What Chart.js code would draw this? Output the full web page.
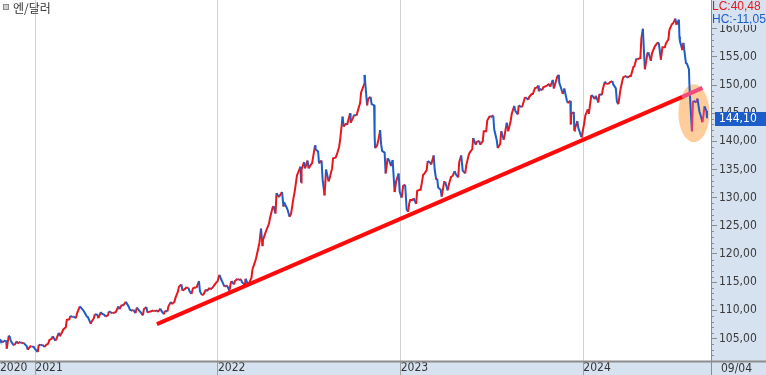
<!DOCTYPE html>
<html>
<head>
<meta charset="utf-8">
<script src="https://cdn.jsdelivr.net/npm/chart.js@4.4.1/dist/chart.umd.min.js"></script>
<style>
  html, body { margin: 0; padding: 0; background: #fff; }
  #wrap { width: 766px; height: 375px; }
</style>
</head>
<body>
<div id="wrap"><canvas id="fxChart" width="766" height="375"></canvas></div>
<script>
// labels
const TITLE = '엔/달러';
const LAST_DATE_LABEL = '09/04';
const LAST_PRICE = 144.10;
const LC_TEXT = 'LC:40,48';
const HC_TEXT = 'HC:-11,05';

// USD/JPY (month-day, rate)
const rates2020 = [
  ['10-22', 104.9], ['10-23', 104.7], ['10-28', 104.3], ['10-30', 104.6], ['11-04', 104.5],
  ['11-05', 103.2], ['11-09', 105.5], ['11-11', 105.3], ['11-13', 104.6], ['11-18', 103.9],
  ['11-20', 103.8], ['11-25', 104.5], ['11-27', 104.1], ['12-02', 104.4], ['12-04', 104.2],
  ['12-09', 104.2], ['12-11', 104.0], ['12-15', 103.6], ['12-17', 103.0], ['12-22', 103.6],
  ['12-24', 103.6], ['12-29', 103.5], ['12-31', 103.2]
];
const rates2021 = [
  ['01-06', 102.6], ['01-08', 103.9], ['01-12', 103.8], ['01-15', 103.9], ['01-20', 103.5],
  ['01-22', 103.8], ['01-27', 104.1], ['01-29', 104.7], ['02-03', 105.0], ['02-05', 105.4],
  ['02-10', 104.6], ['02-12', 104.9], ['02-17', 106.0], ['02-19', 105.4], ['02-24', 106.2],
  ['02-26', 106.6], ['03-03', 107.0], ['03-05', 108.3], ['03-10', 108.4], ['03-12', 109.0],
  ['03-17', 108.8], ['03-19', 108.9], ['03-23', 108.6], ['03-26', 109.6], ['03-31', 110.7],
  ['04-06', 110.1], ['04-09', 109.7], ['04-14', 108.9], ['04-16', 108.8], ['04-22', 107.6],
  ['04-23', 107.9], ['04-28', 108.6], ['04-30', 109.3], ['05-05', 109.2], ['05-07', 108.6],
  ['05-12', 109.7], ['05-14', 109.4], ['05-19', 109.2], ['05-21', 108.9], ['05-26', 109.1],
  ['05-28', 109.8], ['06-02', 109.6], ['06-04', 109.5], ['06-09', 109.6], ['06-11', 109.7],
  ['06-16', 110.7], ['06-18', 110.2], ['06-23', 111.0], ['06-25', 110.8], ['07-01', 111.5],
  ['07-07', 110.6], ['07-09', 110.1], ['07-14', 109.9], ['07-16', 110.1], ['07-20', 109.5],
  ['07-23', 110.5], ['07-28', 109.9], ['07-30', 109.7], ['08-04', 109.1], ['08-06', 110.2],
  ['08-11', 110.6], ['08-13', 109.6], ['08-18', 109.8], ['08-20', 109.8], ['08-25', 110.0],
  ['08-27', 109.8], ['09-01', 110.0], ['09-03', 109.7], ['09-08', 110.3], ['09-10', 109.9],
  ['09-15', 109.3], ['09-17', 109.9], ['09-22', 109.8], ['09-24', 110.7], ['09-29', 111.5],
  ['10-01', 111.1], ['10-06', 111.5], ['10-08', 112.2], ['10-13', 113.3], ['10-15', 114.2],
  ['10-20', 114.6], ['10-22', 113.5], ['10-27', 113.8], ['10-29', 114.0], ['11-03', 114.0],
  ['11-05', 113.4], ['11-09', 112.9], ['11-12', 113.9], ['11-17', 114.1], ['11-19', 114.0],
  ['11-24', 115.2], ['11-26', 113.4], ['11-30', 112.7], ['12-03', 112.8], ['12-08', 113.7],
  ['12-10', 113.4], ['12-15', 114.0], ['12-17', 113.7], ['12-22', 114.1], ['12-24', 114.4],
  ['12-29', 115.0], ['12-31', 115.1]
];
const rates2022 = [
  ['01-04', 116.3], ['01-07', 115.6], ['01-12', 114.6], ['01-14', 114.2], ['01-19', 114.4],
  ['01-24', 113.5], ['01-26', 114.6], ['01-28', 115.2], ['02-02', 114.6], ['02-04', 115.2],
  ['02-09', 115.6], ['02-11', 115.4], ['02-16', 115.5], ['02-18', 115.0], ['02-24', 114.5],
  ['02-25', 115.6], ['03-01', 114.8], ['03-04', 114.8], ['03-09', 115.8], ['03-11', 117.3],
  ['03-16', 118.6], ['03-18', 119.2], ['03-23', 121.2], ['03-25', 122.1], ['03-28', 124.5],
  ['03-31', 121.4], ['04-01', 122.5], ['04-06', 123.8], ['04-08', 124.3], ['04-13', 125.4],
  ['04-15', 126.4], ['04-20', 128.2], ['04-22', 128.5], ['04-26', 127.2], ['04-28', 130.8],
  ['05-03', 130.1], ['05-06', 130.6], ['05-09', 131.0], ['05-12', 128.4], ['05-13', 129.2],
  ['05-18', 128.3], ['05-20', 127.9], ['05-24', 126.6], ['05-27', 127.1], ['06-01', 130.0],
  ['06-03', 130.9], ['06-08', 134.0], ['06-10', 134.4], ['06-15', 135.5], ['06-16', 132.7],
  ['06-17', 135.0], ['06-22', 136.3], ['06-24', 135.2], ['06-29', 136.6], ['07-01', 135.2],
  ['07-06', 135.9], ['07-08', 136.1], ['07-14', 139.3], ['07-15', 138.6], ['07-20', 138.2],
  ['07-22', 136.1], ['07-27', 136.6], ['07-29', 133.3], ['08-02', 130.4], ['08-05', 135.0],
  ['08-10', 132.9], ['08-12', 133.4], ['08-17', 135.2], ['08-19', 137.0], ['08-24', 137.1],
  ['08-26', 137.5], ['08-31', 139.0], ['09-02', 140.2], ['09-07', 144.4], ['09-09', 142.6],
  ['09-14', 143.2], ['09-16', 142.9], ['09-22', 145.0], ['09-23', 143.3], ['09-28', 144.2],
  ['09-30', 144.7], ['10-05', 144.6], ['10-07', 145.3], ['10-12', 146.8], ['10-14', 148.7],
  ['10-20', 150.1], ['10-21', 151.8], ['10-24', 148.5], ['10-26', 146.4], ['10-28', 147.5],
  ['11-02', 147.9], ['11-04', 146.6], ['11-09', 146.4], ['11-10', 141.0], ['11-11', 138.8],
  ['11-15', 139.3], ['11-18', 140.4], ['11-21', 142.0], ['11-23', 139.5], ['11-25', 138.3],
  ['11-30', 138.0], ['12-02', 134.3], ['12-06', 137.0], ['12-09', 136.6], ['12-13', 135.6],
  ['12-16', 136.7], ['12-20', 131.0], ['12-23', 132.9], ['12-28', 134.3], ['12-30', 131.1]
];
const rates2023 = [
  ['01-03', 130.0], ['01-06', 132.1], ['01-10', 132.3], ['01-13', 127.9], ['01-16', 127.5],
  ['01-18', 128.9], ['01-20', 129.6], ['01-25', 129.6], ['01-27', 129.9], ['02-01', 128.9],
  ['02-03', 131.2], ['02-08', 131.4], ['02-10', 131.4], ['02-15', 134.1], ['02-17', 134.2],
  ['02-22', 134.9], ['02-24', 136.5], ['03-01', 136.2], ['03-03', 135.9], ['03-08', 137.5],
  ['03-10', 135.0], ['03-13', 133.2], ['03-15', 133.4], ['03-17', 131.8], ['03-22', 131.4],
  ['03-24', 130.2], ['03-29', 132.8], ['03-31', 132.8], ['04-05', 131.3], ['04-07', 132.2],
  ['04-12', 133.8], ['04-14', 133.7], ['04-19', 134.7], ['04-21', 134.2], ['04-26', 133.6],
  ['04-28', 136.3], ['05-02', 137.5], ['05-05', 134.8], ['05-10', 134.3], ['05-12', 135.7],
  ['05-17', 137.6], ['05-19', 138.0], ['05-24', 138.6], ['05-26', 140.6], ['05-31', 139.4],
  ['06-02', 139.9], ['06-07', 140.1], ['06-09', 139.4], ['06-14', 140.0], ['06-16', 141.8],
  ['06-21', 141.8], ['06-23', 143.7], ['06-28', 144.5], ['06-30', 144.3], ['07-05', 144.6],
  ['07-07', 142.1], ['07-12', 140.2], ['07-14', 138.8], ['07-19', 139.6], ['07-21', 141.8],
  ['07-26', 140.3], ['07-28', 141.2], ['08-01', 143.3], ['08-04', 141.8], ['08-09', 143.7],
  ['08-11', 144.9], ['08-16', 146.3], ['08-18', 145.4], ['08-23', 144.8], ['08-25', 146.4],
  ['08-30', 146.1], ['09-01', 146.2], ['09-06', 147.7], ['09-08', 147.8], ['09-13', 147.4],
  ['09-15', 147.9], ['09-20', 148.4], ['09-22', 148.4], ['09-27', 149.6], ['09-29', 149.4],
  ['10-03', 149.9], ['10-04', 148.9], ['10-06', 149.3], ['10-11', 149.1], ['10-13', 149.6],
  ['10-18', 149.8], ['10-20', 149.9], ['10-25', 150.2], ['10-27', 149.7], ['11-01', 150.9],
  ['11-03', 149.4], ['11-08', 150.9], ['11-10', 151.5], ['11-13', 151.8], ['11-14', 150.4],
  ['11-17', 149.6], ['11-21', 148.4], ['11-24', 149.4], ['11-29', 147.3], ['12-01', 146.8],
  ['12-06', 147.2], ['12-07', 143.0], ['12-08', 144.9], ['12-13', 145.2], ['12-14', 141.9],
  ['12-15', 142.2], ['12-20', 143.6], ['12-22', 142.4], ['12-28', 140.8], ['12-29', 141.0]
];
const rates2024 = [
  ['01-03', 143.3], ['01-05', 144.6], ['01-10', 145.7], ['01-12', 144.9], ['01-17', 148.2],
  ['01-19', 148.1], ['01-24', 147.5], ['01-26', 148.1], ['01-31', 146.9], ['02-02', 148.4],
  ['02-07', 148.2], ['02-09', 149.3], ['02-13', 150.6], ['02-16', 150.2], ['02-21', 150.3],
  ['02-23', 150.5], ['02-28', 150.7], ['03-01', 150.1], ['03-06', 149.4], ['03-08', 147.1],
  ['03-11', 146.6], ['03-13', 147.8], ['03-15', 149.1], ['03-19', 150.8], ['03-21', 151.4],
  ['03-22', 151.4], ['03-27', 151.6], ['03-29', 151.3], ['04-03', 151.6], ['04-05', 151.6],
  ['04-10', 153.2], ['04-12', 153.3], ['04-16', 154.7], ['04-19', 154.6], ['04-24', 154.8],
  ['04-26', 158.3], ['04-29', 160.0], ['05-01', 156.2], ['05-03', 152.8], ['05-08', 155.6],
  ['05-10', 155.8], ['05-15', 154.3], ['05-17', 155.6], ['05-22', 156.7], ['05-24', 157.0],
  ['05-29', 157.6], ['05-31', 157.3], ['06-04', 154.5], ['06-07', 156.7], ['06-12', 156.7],
  ['06-14', 157.4], ['06-19', 158.1], ['06-21', 159.8], ['06-26', 160.8], ['06-28', 160.9],
  ['07-03', 161.8], ['07-05', 160.7], ['07-10', 161.6], ['07-11', 158.6], ['07-12', 157.8],
  ['07-17', 156.2], ['07-19', 157.5], ['07-24', 153.9], ['07-26', 153.8], ['07-30', 152.8],
  ['07-31', 150.0], ['08-02', 146.5], ['08-05', 141.8], ['08-07', 147.0], ['08-09', 147.2],
  ['08-14', 146.9], ['08-16', 147.6], ['08-20', 145.3], ['08-23', 144.4], ['08-26', 143.4],
  ['08-28', 144.6], ['08-30', 146.2], ['09-03', 145.4], ['09-04', 144.1]
];

// support line drawn on the chart
const trendDates = ['2021-09-01', '2024-07-17', '2024-08-26'];
const trendValues = [107.55, 147.9, 149.5];

// axis
const yearTicks = [2021, 2022, 2023, 2024];
const yTickValues = [105, 110, 115, 120, 125, 130, 135, 140, 145, 150, 155, 160];
const X_MIN = 295.5, X_MAX = 1716.1;
const Y_MIN = 101.0, Y_MAX = 165.1;

const UP = '#e8171c', DOWN = '#1b5ec9', UP_MARKED = '#ec3170';
const BAND = '#d6e2f0';
const AXIS_FONT = '"DejaVu Sans Condensed", "Liberation Sans", sans-serif';

function dayNum(str) {
  const [y, m, d] = str.split('-').map(Number);
  return (Date.UTC(y, m - 1, d) - Date.UTC(2020, 0, 1)) / 86400000;
}

const byYear = { 2020: rates2020, 2021: rates2021, 2022: rates2022, 2023: rates2023, 2024: rates2024 };
const pricePoints = [];
for (const year in byYear) {
  byYear[year].forEach(([md, v]) => pricePoints.push({ x: dayNum(year + '-' + md), y: v }));
}
const trendPoints = trendDates.map((d, i) => ({ x: dayNum(d), y: trendValues[i] }));
const markFrom = dayNum('2024-07-31');
const circleCenter = { day: dayNum('2024-08-09'), value: 145.0, daySpan: 31, valueSpan: 5.15 };

const overlayPlugin = {
  id: 'overlay',
  beforeDraw(chart) {
    const { ctx, chartArea: a, width, height } = chart;
    ctx.save();
    ctx.fillStyle = BAND;
    ctx.fillRect(a.right, 0, width - a.right, height);
    ctx.fillRect(0, a.bottom, width, height - a.bottom);
    ctx.restore();
  },
  beforeDatasetsDraw(chart) {
    const { ctx } = chart;
    const x = chart.scales.x, y = chart.scales.y;
    const cx = x.getPixelForValue(circleCenter.day);
    const cy = y.getPixelForValue(circleCenter.value);
    const rx = x.getPixelForValue(circleCenter.day + circleCenter.daySpan) - cx;
    const ry = cy - y.getPixelForValue(circleCenter.value + circleCenter.valueSpan);
    ctx.save();
    ctx.fillStyle = '#ffcd9c';
    ctx.beginPath();
    ctx.ellipse(cx, cy, rx, ry, 0, 0, Math.PI * 2);
    ctx.fill();
    ctx.restore();
  },
  afterDraw(chart) {
    const { ctx, chartArea: a, width, height } = chart;
    const y = chart.scales.y;
    ctx.save();

    // axis lines
    ctx.strokeStyle = '#8c8c8c';
    ctx.lineWidth = 1;
    ctx.beginPath();
    ctx.moveTo(a.right + 0.5, 0);
    ctx.lineTo(a.right + 0.5, height);
    ctx.stroke();
    ctx.lineWidth = 2;
    ctx.beginPath();
    ctx.moveTo(0, a.bottom + 0.5);
    ctx.lineTo(width, a.bottom + 0.5);
    ctx.stroke();

    // minor ticks, every 1 yen
    ctx.lineWidth = 1;
    ctx.beginPath();
    for (let v = Math.ceil(Y_MIN); v <= Y_MAX; v++) {
      if (v % 5 === 0) continue;
      const py = Math.round(y.getPixelForValue(v)) + 0.5;
      ctx.moveTo(a.right, py);
      ctx.lineTo(a.right + 3, py);
    }
    ctx.stroke();

    // last price box
    const py = Math.round(y.getPixelForValue(LAST_PRICE));
    ctx.fillStyle = '#1b5ec9';
    ctx.fillRect(a.right + 4, py - 6, width - a.right - 4, 14);
    ctx.fillStyle = '#fff';
    ctx.font = '12px ' + AXIS_FONT;
    ctx.textBaseline = 'middle';
    ctx.fillText(LAST_PRICE.toFixed(2).replace('.', ','), a.right + 8, py + 1);

    // LC / HC
    ctx.fillStyle = BAND;
    ctx.fillRect(a.right + 1, 0, width - a.right - 1, 25);
    ctx.font = '12px "Liberation Sans", Arial, sans-serif';
    ctx.textBaseline = 'alphabetic';
    ctx.fillStyle = '#e8171c';
    ctx.fillText(LC_TEXT, a.right + 1, 10);
    ctx.fillStyle = '#1b5ec9';
    ctx.fillText(HC_TEXT, a.right + 1, 23);

    // last date label
    ctx.fillStyle = '#333';
    ctx.font = '12px ' + AXIS_FONT;
    ctx.textBaseline = 'middle';
    ctx.fillText(LAST_DATE_LABEL, a.right + 10, a.bottom + 7.5);

    // title
    ctx.fillStyle = '#8c8c8c';
    ctx.fillRect(3, 4, 6, 6);
    ctx.fillStyle = '#cfcfcf';
    ctx.fillRect(4, 5, 4, 4);
    ctx.fillStyle = '#333';
    ctx.font = '12px "Noto Sans CJK KR", sans-serif';
    ctx.textBaseline = 'middle';
    ctx.fillText(TITLE, 13, 8);

    ctx.restore();
  }
};

new Chart(document.getElementById('fxChart'), {
  type: 'line',
  data: {
    datasets: [
      {
        label: 'trend',
        data: trendPoints,
        order: 0,
        borderWidth: 4,
        pointRadius: 0,
        segment: { borderColor: ctx => ctx.p0DataIndex === 0 ? '#ff0a0a' : '#f04b80' }
      },
      {
        label: TITLE,
        data: pricePoints,
        order: 1,
        borderWidth: 2,
        pointRadius: 0,
        tension: 0,
        segment: {
          borderColor: ctx => {
            if (ctx.p1.parsed.y < ctx.p0.parsed.y) return DOWN;
            return ctx.p0.parsed.x >= markFrom ? UP_MARKED : UP;
          }
        }
      }
    ]
  },
  options: {
    responsive: false,
    animation: false,
    events: [],
    layout: { padding: 0 },
    plugins: { legend: { display: false }, tooltip: { enabled: false } },
    scales: {
      x: {
        type: 'linear',
        position: 'bottom',
        min: X_MIN,
        max: X_MAX,
        afterBuildTicks: scale => {
          scale.ticks = [{ value: X_MIN }].concat(yearTicks.map(yr => ({ value: dayNum(yr + '-01-01') })));
        },
        afterFit: scale => {
          scale.height = 14;
          scale.paddingLeft = 0;
          scale.paddingRight = 0;
        },
        border: { display: false },
        grid: {
          color: ctx => (ctx.tick && ctx.tick.value <= X_MIN + 1) ? 'rgba(0,0,0,0)' : '#d2d2d2',
          tickColor: ctx => (ctx.tick && ctx.tick.value <= X_MIN + 1) ? 'rgba(0,0,0,0)' : '#a0a0a0',
          tickLength: 14
        },
        ticks: {
          autoSkip: false,
          maxRotation: 0,
          align: 'start',
          padding: -14,
          color: '#333',
          font: { family: AXIS_FONT, size: 12 },
          callback: value => value <= X_MIN + 1 ? '2020' : String(yearTicks[[366, 731, 1096, 1461].indexOf(value)])
        }
      },
      y: {
        type: 'linear',
        position: 'right',
        min: Y_MIN,
        max: Y_MAX,
        afterBuildTicks: scale => { scale.ticks = yTickValues.map(v => ({ value: v })); },
        afterFit: scale => {
          scale.width = 55;
          scale.paddingTop = 0;
          scale.paddingBottom = 0;
        },
        border: { display: false },
        grid: { drawOnChartArea: false, color: '#8c8c8c', tickLength: 6 },
        ticks: {
          autoSkip: false,
          padding: 2,
          color: '#3a3a3a',
          font: { family: AXIS_FONT, size: 12 },
          callback: value => value.toFixed(2).replace('.', ',')
        }
      }
    }
  },
  plugins: [overlayPlugin]
});
</script>
</body>
</html>
